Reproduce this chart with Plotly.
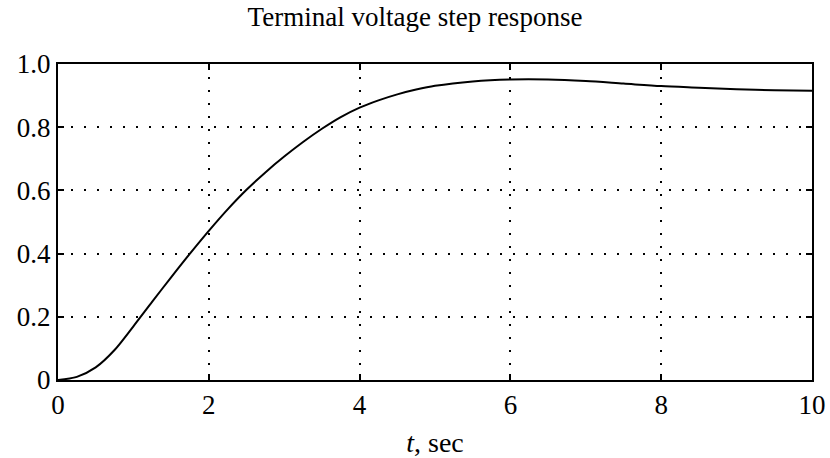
import plotly.graph_objects as go

# Step response samples: time (s) and terminal voltage (p.u.)
t_sec = [0, 0.25, 0.5, 0.75, 1.0, 1.25, 1.5, 1.75, 2.0, 2.25, 2.5, 2.75,
         3.0, 3.25, 3.5, 3.75, 4.0, 4.25, 4.5, 4.75, 5.0, 5.5, 6.0, 6.5,
         7.0, 7.5, 8.0, 8.5, 9.0, 9.5, 10.0]
v_term = [0.0, 0.010, 0.040, 0.095, 0.170, 0.248, 0.325, 0.400, 0.472, 0.540,
          0.602, 0.657, 0.707, 0.753, 0.795, 0.832, 0.862, 0.885, 0.904, 0.919,
          0.931, 0.945, 0.951, 0.951, 0.946, 0.938, 0.930, 0.925, 0.920, 0.917,
          0.915]

x_ticks = [0, 2, 4, 6, 8, 10]
x_tick_text = ["0", "2", "4", "6", "8", "10"]
y_ticks = [0, 0.2, 0.4, 0.6, 0.8, 1.0]
y_tick_text = ["0", "0.2", "0.4", "0.6", "0.8", "1.0"]

FONT = "Liberation Serif"

fig = go.Figure()
fig.add_trace(go.Scatter(
    x=t_sec, y=v_term, mode="lines",
    line=dict(color="black", width=2, shape="spline", smoothing=0.8),
    showlegend=False, hoverinfo="skip",
))

axis_common = dict(
    showline=True, linecolor="black", linewidth=2, mirror="ticks",
    ticks="inside", ticklen=6, tickwidth=1.5, tickcolor="black",
    showgrid=True, gridcolor="black", gridwidth=1.5, griddash="2px,11px",
    zeroline=False, automargin=False,
    tickfont=dict(family=FONT, size=27, color="black"),
)

fig.update_xaxes(
    range=[0, 10], tickvals=x_ticks, ticktext=x_tick_text,
    title=dict(text="<i>t</i>, sec", font=dict(family=FONT, size=28, color="black"),
               standoff=22),
    **axis_common,
)
fig.update_yaxes(
    range=[0, 1.0], tickvals=y_ticks, ticktext=y_tick_text,
    **axis_common,
)

fig.update_layout(
    width=830, height=458,
    margin=dict(l=58, r=18, t=64, b=78),
    paper_bgcolor="white", plot_bgcolor="white",
    title=dict(text="Terminal voltage step response",
               font=dict(family=FONT, size=27, color="black"),
               x=0.5, xanchor="center", y=0.985, yanchor="top"),
)

fig.write_html("out.html")
